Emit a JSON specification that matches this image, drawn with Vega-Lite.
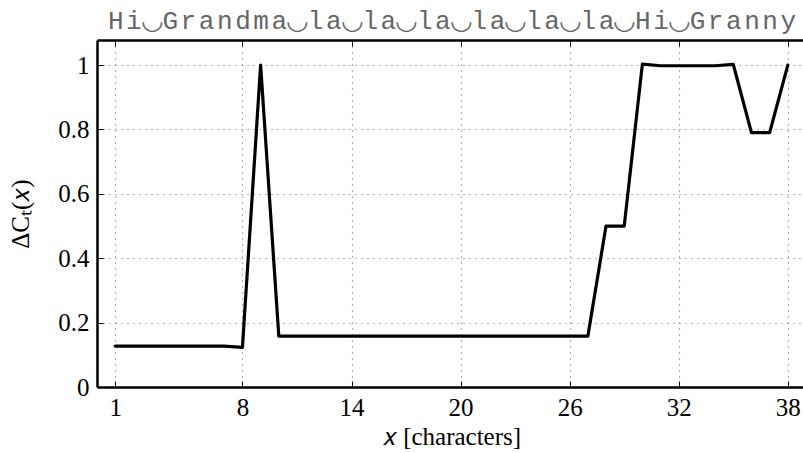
{
  "$schema": "https://vega.github.io/schema/vega-lite/v6.json",
  "width": 709,
  "height": 347,
  "autosize": {"type": "none"},
  "padding": {"left": 97, "top": 40, "right": 0, "bottom": 66},
  "background": "white",
  "config": {"view": {"stroke": null}},
  "data": {"values": [
    {"x": 1, "v": 0.127}, {"x": 2, "v": 0.127}, {"x": 3, "v": 0.127}, {"x": 4, "v": 0.127},
    {"x": 5, "v": 0.127}, {"x": 6, "v": 0.127}, {"x": 7, "v": 0.127}, {"x": 8, "v": 0.123},
    {"x": 9, "v": 1.0}, {"x": 10, "v": 0.158}, {"x": 11, "v": 0.158}, {"x": 12, "v": 0.158},
    {"x": 13, "v": 0.158}, {"x": 14, "v": 0.158}, {"x": 15, "v": 0.158}, {"x": 16, "v": 0.158},
    {"x": 17, "v": 0.158}, {"x": 18, "v": 0.158}, {"x": 19, "v": 0.158}, {"x": 20, "v": 0.158},
    {"x": 21, "v": 0.158}, {"x": 22, "v": 0.158}, {"x": 23, "v": 0.158}, {"x": 24, "v": 0.158},
    {"x": 25, "v": 0.158}, {"x": 26, "v": 0.158}, {"x": 27, "v": 0.158}, {"x": 28, "v": 0.5},
    {"x": 29, "v": 0.5}, {"x": 30, "v": 1.003}, {"x": 31, "v": 0.998}, {"x": 32, "v": 0.998},
    {"x": 33, "v": 0.998}, {"x": 34, "v": 0.998}, {"x": 35, "v": 1.002}, {"x": 36, "v": 0.79},
    {"x": 37, "v": 0.79}, {"x": 38, "v": 1.0}
  ]},
  "resolve": {"axis": {"x": "independent"}},
  "layer": [
    {
      "mark": {"type": "line", "color": "black", "strokeWidth": 3.2, "strokeJoin": "round", "strokeCap": "round"},
      "encoding": {
        "x": {"field": "x", "type": "quantitative",
          "scale": {"domain": [0, 39], "nice": false, "zero": false},
          "axis": {"orient": "bottom", "values": [1, 8, 14, 20, 26, 32, 38],
            "title": "𝑥 [characters]", "titleFont": "Liberation Serif", "titleFontSize": 25, "titleFontWeight": "normal", "titleColor": "black", "titlePadding": 4,
            "labelFont": "Liberation Serif", "labelFontSize": 25, "labelColor": "black", "labelPadding": 14,
            "tickSize": -6, "tickColor": "black", "tickWidth": 1,
            "domainColor": "black", "domainWidth": 2.5,
            "grid": true, "gridColor": "#666", "gridDash": [1, 5], "gridWidth": 1.2}},
        "y": {"field": "v", "type": "quantitative",
          "scale": {"domain": [0, 1.078], "nice": false},
          "axis": {"values": [0, 0.2, 0.4, 0.6, 0.8, 1], "format": "~g",
            "title": "ΔCₜ(𝑥)", "titleFont": "Liberation Serif", "titleFontSize": 25, "titleFontWeight": "normal", "titleColor": "black", "titlePadding": 24,
            "labelFont": "Liberation Serif", "labelFontSize": 25, "labelColor": "black", "labelPadding": 14,
            "tickSize": -6, "tickColor": "black", "tickWidth": 1,
            "domainColor": "black", "domainWidth": 2.5,
            "grid": true, "gridColor": "#666", "gridDash": [1, 5], "gridWidth": 1.2}}
      }
    },
    {
      "mark": {"type": "point", "opacity": 0},
      "encoding": {
        "x": {"field": "x", "type": "quantitative",
          "axis": {"orient": "top", "values": [1,2,3,4,5,6,7,8,9,10,11,12,13,14,15,16,17,18,19,20,21,22,23,24,25,26,27,28,29,30,31,32,33,34,35,36,37,38],
            "title": null,
            "labelExpr": "substring('Hi◡Grandma◡la◡la◡la◡la◡la◡la◡Hi◡Granny', datum.value - 1, datum.value)",
            "labelFont": "Liberation Mono", "labelFontSize": 26, "labelColor": "#666", "labelPadding": 13,
            "labelOverlap": false, "labelFlush": false,
            "tickSize": -6, "tickColor": "black", "tickWidth": 1,
            "tickOpacity": {"condition": {"test": "indexof([1, 8, 14, 20, 26, 32, 38], datum.value) >= 0", "value": 1}, "value": 0},
            "domainColor": "black", "domainWidth": 2.5, "grid": false}}
      }
    }
  ]
}
